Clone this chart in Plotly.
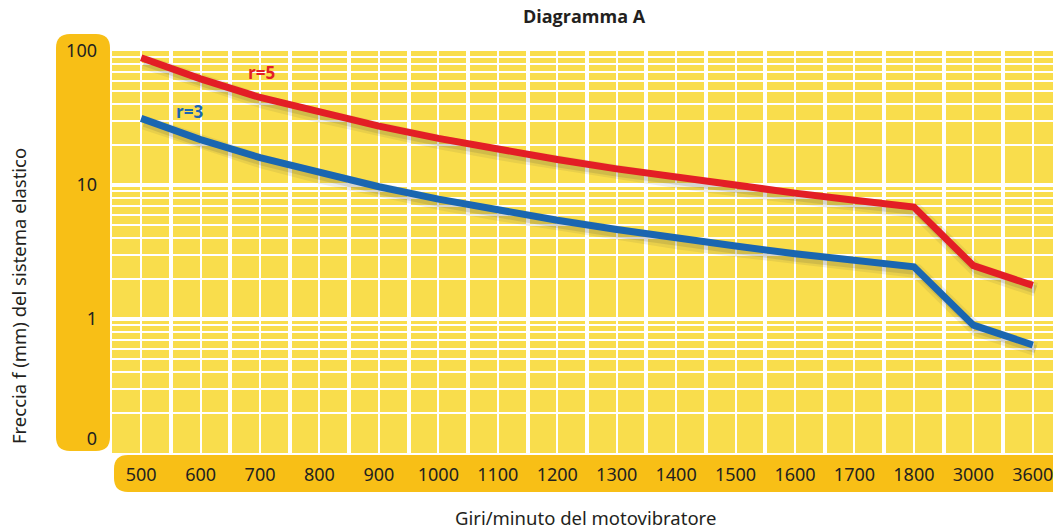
import plotly.graph_objects as go

# ---- data ----
rpm_labels = ["500", "600", "700", "800", "900", "1000", "1100", "1200", "1300",
              "1400", "1500", "1600", "1700", "1800", "3000", "3600"]
freccia_r5 = [89, 62, 45, 35, 27.5, 22.3, 18.5, 15.5, 13.2, 11.4, 9.9, 8.7, 7.7, 6.85, 2.5, 1.78]
freccia_r3 = [31.4, 21.8, 16.0, 12.3, 9.7, 7.85, 6.5, 5.45, 4.65, 4.0, 3.5, 3.07, 2.72, 2.45, 0.9, 0.64]
y_tick_vals = [100, 10, 1, 0.127]
y_tick_text = ["100", "10", "1", "0"]
y_major_grid = [1, 10, 100]
y_minor_grid = [0.2, 0.3, 0.4, 0.5, 0.6, 0.7, 0.8, 0.9,
                2, 3, 4, 5, 6, 7, 8, 9,
                20, 30, 40, 50, 60, 70, 80, 90]

W, H = 1053, 529
ML, MR, MT, MB = 112, 0, 51, 76
PW, PH = W - ML - MR, H - MT - MB

PLOT_BG = "#F9DD4C"
BOX = "#F8BF16"
RED = "#E31E25"
BLUE = "#1A66B0"
TXT = "#231F20"
FONT = "Noto Sans"

x_idx = list(range(len(rpm_labels)))


def px2paper(x, y):
    # page pixel -> paper coordinates
    return (x - ML) / PW, (H - MB - y) / PH


def rounded_box(x0, y0, x1, y1, r):
    def p(x, y):
        a, b = px2paper(x, y)
        return f"{a:.5f},{b:.5f}"
    return (f"M {p(x0 + r, y0)} L {p(x1 - r, y0)} Q {p(x1, y0)} {p(x1, y0 + r)} "
            f"L {p(x1, y1 - r)} Q {p(x1, y1)} {p(x1 - r, y1)} "
            f"L {p(x0 + r, y1)} Q {p(x0, y1)} {p(x0, y1 - r)} "
            f"L {p(x0, y0 + r)} Q {p(x0, y0)} {p(x0 + r, y0)} Z")


fig = go.Figure()

# soft shadows (bottom subplot)
for vals in (freccia_r3, freccia_r5):
    fig.add_trace(go.Scatter(
        x=[i + 0.05 for i in x_idx], y=[v * 0.93 for v in vals], mode="lines",
        line=dict(color="rgba(90,85,70,0.10)", width=14), hoverinfo="skip",
        showlegend=False, xaxis="x", yaxis="y"))
    fig.add_trace(go.Scatter(
        x=[i + 0.05 for i in x_idx], y=[v * 0.93 for v in vals], mode="lines",
        line=dict(color="rgba(90,85,70,0.16)", width=8), hoverinfo="skip",
        showlegend=False, xaxis="x", yaxis="y"))

# main lines (overlaying subplot, drawn on top)
fig.add_trace(go.Scatter(x=x_idx, y=freccia_r3, mode="lines", name="r=3",
                         line=dict(color=BLUE, width=7), showlegend=False,
                         xaxis="x", yaxis="y2"))
fig.add_trace(go.Scatter(x=x_idx, y=freccia_r5, mode="lines", name="r=5",
                         line=dict(color=RED, width=7), showlegend=False,
                         xaxis="x", yaxis="y2"))

x_range = [-0.49, 15.34]
y_range = [-1, 2]

fig.update_layout(
    width=W, height=H, autosize=False,
    margin=dict(l=ML, r=MR, t=MT, b=MB, pad=0),
    paper_bgcolor="white", plot_bgcolor=PLOT_BG,
    font=dict(family=FONT, color=TXT),
    title=dict(text="<b>Diagramma A</b>", x=584 / W, xanchor="center",
               y=1 - 17 / H, yanchor="middle",
               font=dict(size=18, color=TXT, family="Open Sans")),
    xaxis=dict(range=x_range, tickmode="array", tickvals=x_idx, ticktext=rpm_labels,
               showgrid=True, gridcolor="white", gridwidth=2, zeroline=False,
               showline=False, ticks="", ticklabelstandoff=9,
               ticklabeloverflow="allow",
               tickfont=dict(size=18, color=TXT, family=FONT),
               minor=dict(tickmode="array", tickvals=[i + 0.5 for i in range(-1, 16)],
                          showgrid=True, gridcolor="white", gridwidth=4, ticks=""),
               fixedrange=True),
    yaxis=dict(type="log", range=y_range, tickmode="array", tickvals=y_major_grid,
               showticklabels=False, showgrid=True, gridcolor="white", gridwidth=4,
               zeroline=False, showline=False, ticks="",
               minor=dict(tickmode="array", tickvals=y_minor_grid, showgrid=True,
                          gridcolor="white", gridwidth=2, ticks=""),
               fixedrange=True),
    yaxis2=dict(type="log", range=y_range, overlaying="y", side="left",
                tickmode="array", tickvals=y_tick_vals, ticktext=y_tick_text,
                showgrid=False, zeroline=False, showline=False, ticks="",
                ticklabelstandoff=14, tickfont=dict(size=18, color=TXT, family=FONT),
                fixedrange=True),
)

# orange label boxes
fig.add_shape(type="path", xref="paper", yref="paper", layer="below",
              path=rounded_box(56, 34, 110, 451, 14), fillcolor=BOX, line=dict(width=0))
fig.add_shape(type="path", xref="paper", yref="paper", layer="below",
              path=rounded_box(114, 455, 1068, 492, 14), fillcolor=BOX, line=dict(width=0))

# series labels
fig.add_annotation(x=2.03, y=1.841, xref="x", yref="y2", text="<b>r=5</b>",
                   showarrow=False, font=dict(size=17, color=RED, family="Open Sans"))
fig.add_annotation(x=0.82, y=1.55, xref="x", yref="y2", text="<b>r=3</b>",
                   showarrow=False, font=dict(size=17, color=BLUE, family="Open Sans"))

# axis titles
ax, ay = px2paper(585, 517)
fig.add_annotation(x=ax, y=ay, xref="paper", yref="paper", text="Giri/minuto del motovibratore",
                   showarrow=False, xanchor="center", yanchor="middle",
                   font=dict(size=18.5, color=TXT, family=FONT))
bx, by = px2paper(18, 296)
fig.add_annotation(x=bx, y=by, xref="paper", yref="paper",
                   text="Freccia f (mm) del sistema elastico", textangle=-90,
                   showarrow=False, xanchor="center", yanchor="middle",
                   font=dict(size=18.5, color=TXT, family=FONT))

fig.write_html(
    "out.html",
    config={"displayModeBar": False},
    post_script="document.body.style.margin='0';document.body.style.overflow='hidden';",
)
